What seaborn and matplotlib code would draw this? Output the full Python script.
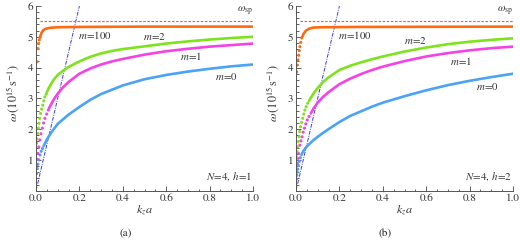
import numpy as np
import pandas as pd
import matplotlib
matplotlib.use('Agg')
import matplotlib.pyplot as plt
import seaborn as sns
from matplotlib.ticker import MultipleLocator, FormatStrFormatter

sns.set_style('ticks')
plt.rcParams['font.family'] = ['STIXGeneral', 'DejaVu Serif']
plt.rcParams['mathtext.fontset'] = 'stix'

# ---- data ----
W_SP = 5.52
LIGHT_K = [0.0, 0.2]
LIGHT_W = [0.0, 6.0]

# panel (a), h=1
A_M0_DOT_K = [0.003, 0.006, 0.009, 0.013, 0.018, 0.024, 0.030]
A_M0_DOT_W = [0.56, 0.72, 0.86, 1.00, 1.16, 1.28, 1.37]
A_M0_K = [0.035, 0.04, 0.05, 0.07, 0.1, 0.15, 0.2, 0.25, 0.3, 0.4, 0.5, 0.6, 0.7, 0.8, 0.9, 1.0]
A_M0_W = [1.45, 1.52, 1.66, 1.89, 2.17, 2.47, 2.72, 2.95, 3.14, 3.42, 3.62, 3.76, 3.87, 3.96, 4.04, 4.10]

A_M1_DOT_K = [0.003, 0.006, 0.009, 0.013, 0.018, 0.023, 0.029, 0.035, 0.041, 0.049, 0.057]
A_M1_DOT_W = [0.83, 1.02, 1.21, 1.42, 1.65, 1.85, 2.03, 2.20, 2.35, 2.49, 2.62]
A_M1_K = [0.06, 0.08, 0.1, 0.125, 0.15, 0.2, 0.25, 0.3, 0.35, 0.4, 0.5, 0.6, 0.7, 0.8, 0.9, 1.0]
A_M1_W = [2.68, 2.94, 3.15, 3.36, 3.53, 3.80, 3.97, 4.10, 4.20, 4.28, 4.42, 4.53, 4.61, 4.68, 4.73, 4.78]

A_M2_DOT_K = [0.003, 0.005, 0.008, 0.011, 0.014, 0.017, 0.021, 0.026, 0.031, 0.036, 0.041, 0.047]
A_M2_DOT_W = [1.54, 1.68, 1.86, 2.03, 2.19, 2.35, 2.51, 2.65, 2.78, 2.92, 3.05, 3.14]
A_M2_K = [0.05, 0.06, 0.08, 0.1, 0.125, 0.15, 0.2, 0.25, 0.3, 0.35, 0.4, 0.5, 0.6, 0.7, 0.8, 0.9, 1.0]
A_M2_W = [3.20, 3.35, 3.59, 3.76, 3.90, 4.02, 4.20, 4.35, 4.46, 4.54, 4.60, 4.69, 4.78, 4.85, 4.91, 4.96, 5.00]

A_M100_DOT_K = [0.005, 0.009, 0.012, 0.015, 0.018]
A_M100_DOT_W = [4.19, 4.62, 4.78, 4.90, 4.98]
A_M100_K = [0.02, 0.025, 0.034, 0.045, 0.064, 0.1, 0.2, 0.5, 1.0]
A_M100_W = [5.02, 5.12, 5.22, 5.26, 5.29, 5.31, 5.32, 5.33, 5.33]

# panel (b), h=2
B_M0_DOT_K = [0.002, 0.004, 0.006, 0.008, 0.011, 0.015, 0.020]
B_M0_DOT_W = [0.38, 0.50, 0.60, 0.70, 0.82, 0.95, 1.07]
B_M0_K = [0.025, 0.03, 0.04, 0.05, 0.065, 0.08, 0.1, 0.125, 0.15, 0.2, 0.25, 0.3, 0.35, 0.4, 0.5, 0.6, 0.7, 0.8, 0.9, 1.0]
B_M0_W = [1.16, 1.24, 1.35, 1.44, 1.54, 1.64, 1.75, 1.88, 2.00, 2.23, 2.43, 2.58, 2.73, 2.86, 3.07, 3.26, 3.43, 3.57, 3.69, 3.80]

B_M1_DOT_K = [0.003, 0.006, 0.009, 0.012, 0.018, 0.023, 0.028, 0.033, 0.039, 0.045, 0.052, 0.060]
B_M1_DOT_W = [0.70, 0.89, 1.05, 1.21, 1.48, 1.62, 1.75, 1.90, 2.03, 2.17, 2.30, 2.41]
B_M1_K = [0.068, 0.08, 0.1, 0.125, 0.15, 0.2, 0.25, 0.3, 0.35, 0.4, 0.5, 0.6, 0.7, 0.8, 0.9, 1.0]
B_M1_W = [2.51, 2.66, 2.86, 3.05, 3.20, 3.46, 3.64, 3.79, 3.92, 4.03, 4.21, 4.36, 4.47, 4.56, 4.63, 4.68]

B_M2_DOT_K = [0.003, 0.005, 0.008, 0.011, 0.014, 0.017, 0.021, 0.026, 0.031, 0.036, 0.041, 0.047, 0.054]
B_M2_DOT_W = [1.10, 1.27, 1.43, 1.60, 1.75, 1.92, 2.08, 2.22, 2.35, 2.49, 2.62, 2.73, 2.84]
B_M2_K = [0.06, 0.07, 0.085, 0.1, 0.125, 0.15, 0.2, 0.25, 0.3, 0.35, 0.4, 0.5, 0.6, 0.7, 0.8, 0.9, 1.0]
B_M2_W = [2.92, 3.04, 3.20, 3.34, 3.53, 3.68, 3.92, 4.06, 4.17, 4.27, 4.36, 4.52, 4.65, 4.76, 4.84, 4.90, 4.95]

B_M100_DOT_K = [0.003, 0.006, 0.009, 0.012, 0.015, 0.018, 0.022]
B_M100_DOT_W = [3.86, 4.08, 4.25, 4.40, 4.55, 4.68, 4.82]
B_M100_K = [0.026, 0.035, 0.046, 0.06, 0.08, 0.12, 0.3, 1.0]
B_M100_W = [4.95, 5.10, 5.20, 5.26, 5.30, 5.31, 5.32, 5.33]

BLUE = '#4aa3f5'
PINK = '#f542e6'
GREEN = '#7ce31c'
ORANGE = '#ff6a10'

XTICKS = [0.0, 0.2, 0.4, 0.6, 0.8, 1.0]
YTICKS = [1, 2, 3, 4, 5, 6]


def curve(ax, dk, dw, k, w, color):
    # steep start drawn as loose dots, rest as a thick line
    sns.scatterplot(x=dk, y=dw, ax=ax, color=color, s=5, edgecolor='none', legend=False)
    sns.lineplot(x=k, y=w, ax=ax, color=color, lw=1.9, legend=False)


def panel(ax, data, labels, hlabel):
    # light line and surface plasmon level
    sns.lineplot(x=LIGHT_K, y=LIGHT_W, ax=ax, color='#3b3bf0', lw=0.7,
                 linestyle=(0, (4, 1.2, 1, 1.2)))
    ax.hlines(W_SP, 0.02, 1.0, color='#ff4a4a', lw=0.8, linestyles=(0, (2.2, 1.5)))
    for (dk, dw, k, w), c in zip(data, [BLUE, PINK, GREEN, ORANGE]):
        curve(ax, dk, dw, k, w, c)

    ax.set_xlim(0, 1.0)
    ax.set_ylim(0, 6)
    ax.set_xticks(XTICKS)
    ax.set_yticks(YTICKS)
    ax.xaxis.set_major_formatter(FormatStrFormatter('%.1f'))
    ax.xaxis.set_minor_locator(MultipleLocator(0.05))
    ax.yaxis.set_minor_locator(MultipleLocator(0.2))
    ax.tick_params(which='both', direction='in', colors='#444444', labelcolor='#333333',
                   labelsize=8, pad=2, width=0.6)
    ax.tick_params(which='major', length=3.5)
    ax.tick_params(which='minor', length=1.8)
    sns.despine(ax=ax)
    for s in ['left', 'bottom']:
        ax.spines[s].set_color('#555555')
        ax.spines[s].set_linewidth(0.7)
    ax.set_xlabel('')
    ax.set_ylabel('')

    fs = 7.8
    ax.text(0.965, 5.81, r'$\omega_{\rm sp}$', ha='center', va='center', fontsize=fs, color='#333333')
    ax.text(0.195, 5.05, r'$m\!=\!100$', ha='left', va='center', fontsize=fs, color='#333333')
    for (x, y, t) in labels:
        ax.text(x, y, t, ha='center', va='center', fontsize=fs, color='#333333')
    ax.text(0.995, 0.45, hlabel, ha='right', va='center', fontsize=fs, color='#333333')


fig = plt.figure(figsize=(5.2, 2.42), dpi=100)
fig.patch.set_facecolor('white')
ax_a = fig.add_axes([36 / 520, 1 - 190.7 / 242, 217 / 520, 184.7 / 242])
ax_b = fig.add_axes([296 / 520, 1 - 190.7 / 242, 217 / 520, 184.7 / 242])

panel(ax_a,
      [(A_M0_DOT_K, A_M0_DOT_W, A_M0_K, A_M0_W),
       (A_M1_DOT_K, A_M1_DOT_W, A_M1_K, A_M1_W),
       (A_M2_DOT_K, A_M2_DOT_W, A_M2_K, A_M2_W),
       (A_M100_DOT_K, A_M100_DOT_W, A_M100_K, A_M100_W)],
      [(0.548, 5.02, r'$m\!=\!2$'), (0.714, 4.37, r'$m\!=\!1$'), (0.878, 3.72, r'$m\!=\!0$')],
      r'$N\!=\!4,\,h\!=\!1$')

panel(ax_b,
      [(B_M0_DOT_K, B_M0_DOT_W, B_M0_K, B_M0_W),
       (B_M1_DOT_K, B_M1_DOT_W, B_M1_K, B_M1_W),
       (B_M2_DOT_K, B_M2_DOT_W, B_M2_K, B_M2_W),
       (B_M100_DOT_K, B_M100_DOT_W, B_M100_K, B_M100_W)],
      [(0.55, 4.87, r'$m\!=\!2$'), (0.76, 4.22, r'$m\!=\!1$'), (0.884, 3.40, r'$m\!=\!0$')],
      r'$N\!=\!4,\,h\!=\!2$')

# axis labels and panel captions
ylab = r'$\omega\,(10^{15}\,\mathrm{s}^{-1})$'
for x0, cx, cap_x, cap in [(13, 144.5, 126, '(a)'), (273, 404.5, 385, '(b)')]:
    fig.text(x0 / 520, 1 - 93 / 242, ylab, rotation=90, ha='center', va='center',
             fontsize=8.8, color='#333333')
    fig.text(cx / 520, 1 - 210 / 242, r'$k_z a$', ha='center', va='center',
             fontsize=8.8, color='#333333')
    fig.text(cap_x / 520, 1 - 233 / 242, cap, ha='center', va='center',
             fontsize=8, color='#222222')

fig.savefig('out.png', dpi=100, facecolor='white')
